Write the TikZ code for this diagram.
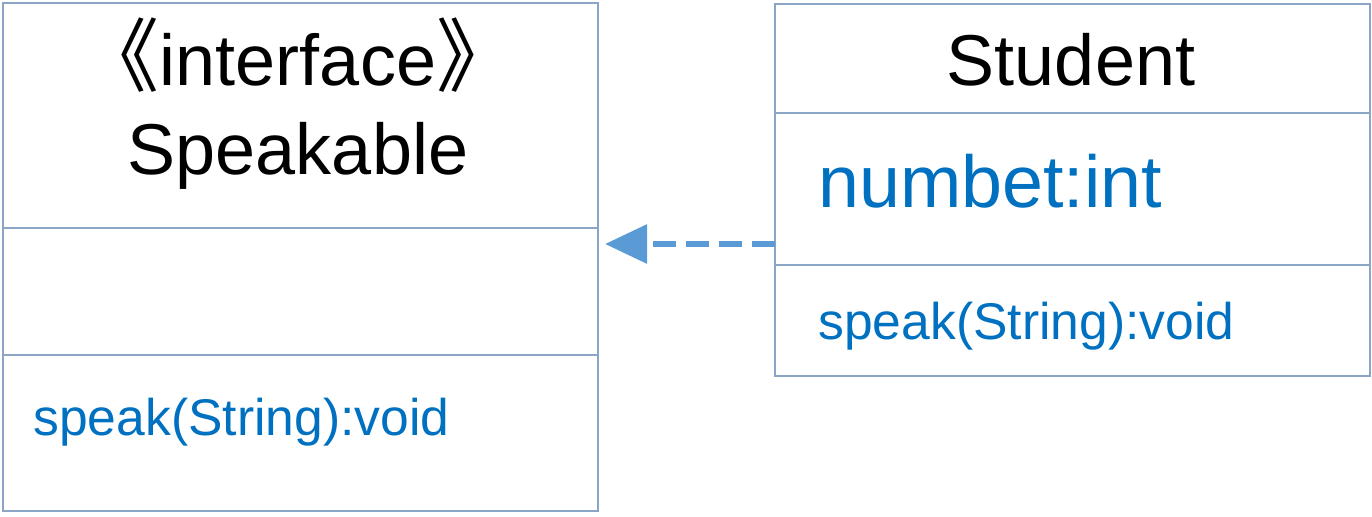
\documentclass[tikz,border=0pt]{standalone}
\usepackage{fontspec}
\setmainfont{Liberation Sans}
\newfontfamily\cjk{Noto Sans CJK SC}
\usetikzlibrary{arrows.meta, positioning}
\definecolor{boxline}{RGB}{138,165,198}
\definecolor{arrowblue}{RGB}{91,155,213}
\definecolor{textblue}{RGB}{0,112,192}

\begin{document}
\begin{tikzpicture}[x=0.5pt, y=-0.5pt,
    compart/.style={rectangle, draw=boxline, line width=1.3pt, minimum width=297.5pt, inner sep=0pt, outer sep=0pt},
    title/.style={inner sep=0pt, font=\fontsize{36}{40}\selectfont},
    attr/.style={inner sep=0pt, text=textblue, font=\fontsize{36.8}{40}\selectfont},
    oper/.style={inner sep=0pt, text=textblue, font=\fontsize{25.8}{30}\selectfont},
    impl/.style={draw=arrowblue, line width=3pt, dash pattern=on 11.5pt off 5pt, -{Triangle[length=21pt, width=19pt]}}
]
    \useasboundingbox (0,0) rectangle (1372,516);

    % Speakable interface
    \node[compart, minimum height=112.5pt, anchor=north west] (spk_head) at (3,3) {};
    \node[compart, minimum height=63.5pt, below=0pt of spk_head] (spk_attr) {};
    \node[compart, minimum height=78pt, below=0pt of spk_attr] (spk_ops) {};
    \node[title, anchor=base] (spk_stereo) at (298,85) {{\cjk\fontsize{40}{40}\selectfont 《}interface{\cjk\fontsize{40}{40}\selectfont 》}};
    \node[title, anchor=base] (spk_name) at (298,174) {Speakable};
    \node[oper, anchor=base west] (spk_speak) at (33,435) {speak(String):void};

    % Student class
    \node[compart, minimum height=54.5pt, anchor=north west] (stu_head) at (775,4) {};
    \node[compart, minimum height=76pt, below=0pt of stu_head] (stu_attr) {};
    \node[compart, minimum height=55.5pt, below=0pt of stu_attr] (stu_ops) {};
    \node[title, anchor=base] (stu_name) at (1071,85) {Student};
    \node[attr, anchor=base west] (stu_number) at (818,207) {numbet:int};
    \node[oper, anchor=base west] (stu_speak) at (818,339) {speak(String):void};

    % Realization
    \coordinate (impl_from) at ([yshift=-27.5pt]stu_attr.west);
    \draw[impl, shorten >=3.5pt] (impl_from) -- (spk_attr.east |- impl_from);

\end{tikzpicture}
\end{document}
